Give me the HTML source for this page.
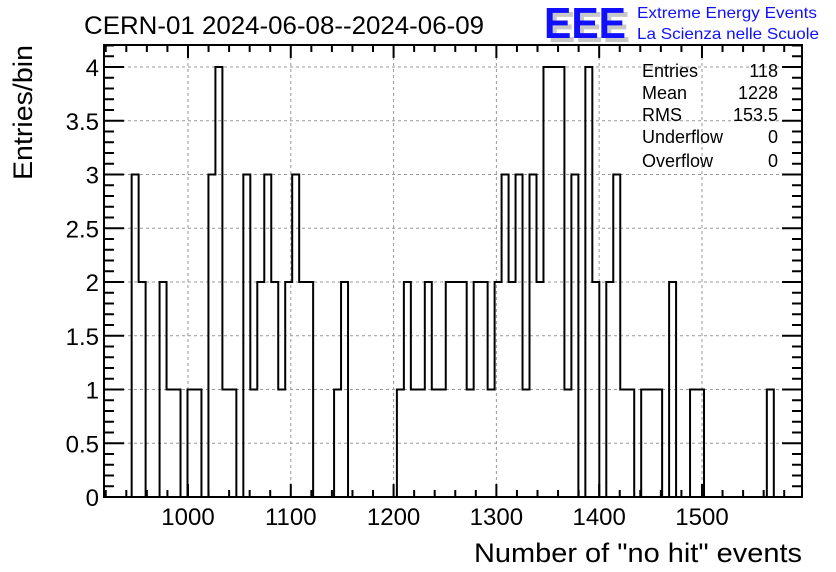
<!DOCTYPE html>
<html><head><meta charset="utf-8"><style>
body{margin:0;background:#fff;}
svg{display:block;font-family:"Liberation Sans",Arial,sans-serif;}
</style></head><body>
<svg id="chart" width="836" height="572" viewBox="0 0 836 572" xmlns="http://www.w3.org/2000/svg">
<rect x="0" y="0" width="836" height="572" fill="#fff"/>
<g id="grid"></g>
<g id="ticks"></g>
<path id="hist" fill="none" stroke="#000" stroke-width="2"/>
<rect x="104" y="45" width="698" height="452" fill="none" stroke="#000" stroke-width="2"/>
<g id="labels" font-size="24" fill="#000"></g>
<text x="84" y="34" font-size="25" textLength="400" lengthAdjust="spacingAndGlyphs">CERN-01 2024-06-08--2024-06-09</text>
<text x="802" y="562" font-size="27" text-anchor="end" textLength="328" lengthAdjust="spacingAndGlyphs">Number of "no hit" events</text>
<text transform="translate(32,180) rotate(-90)" font-size="27" textLength="135" lengthAdjust="spacingAndGlyphs">Entries/bin</text>
<g>
<text x="548" y="42" font-size="44" font-weight="bold" fill="#c8c8c8" textLength="82" lengthAdjust="spacingAndGlyphs">EEE</text>
<text x="544" y="38" font-size="44" font-weight="bold" fill="#1010ff" textLength="82" lengthAdjust="spacingAndGlyphs">EEE</text>
<text x="637" y="18" font-size="16" fill="#1010ff" textLength="180" lengthAdjust="spacingAndGlyphs">Extreme Energy Events</text>
<text x="637" y="39" font-size="16" fill="#1010ff" textLength="182" lengthAdjust="spacingAndGlyphs">La Scienza nelle Scuole</text>
</g>
<g font-size="18" fill="#000">
<text x="642" y="77">Entries</text><text x="778" y="77" text-anchor="end">118</text>
<text x="642" y="99">Mean</text><text x="778" y="99" text-anchor="end">1228</text>
<text x="642" y="121">RMS</text><text x="778" y="121" text-anchor="end">153.5</text>
<text x="642" y="143">Underflow</text><text x="778" y="143" text-anchor="end">0</text>
<text x="642" y="167">Overflow</text><text x="778" y="167" text-anchor="end">0</text>
</g>
</svg>
<script>
const binStart = 945.2;
const binWidth = 6.79;
const counts = [3,2,0,0,2,1,1,0,1,1,0,3,4,1,1,0,3,1,2,3,2,1,2,3,2,2,0,0,0,1,2,
0,0,0,0,0,0,0,
1,2,1,1,2,1,1,2,2,2,1,2,2,1,2,3,2,3,1,3,2,4,4,4,1,3,0,4,2,0,2,3,
1,1,0,1,1,1,0,2,0,0,1,1,0,0,0,0,0,0,0,0,0,1];
const xTicks = [1000,1100,1200,1300,1400,1500];
const yTicks = [0,0.5,1,1.5,2,2.5,3,3.5,4];
const yTickLabels = ["0","0.5","1","1.5","2","2.5","3","3.5","4"];
const xMin = 918.3, xMax = 1597.3, yMin = 0, yMax = 4.2;
const L=104,R=802,T=45,B=497;
const yPx4 = 67;
function sx(v){return L+(v-xMin)/(xMax-xMin)*(R-L);}
function sy(v){return B-(v-yMin)/(4-yMin)*(B-yPx4);}
const NS="http://www.w3.org/2000/svg";
function mk(tag,attrs,parent){const e=document.createElementNS(NS,tag);for(const k in attrs)e.setAttribute(k,attrs[k]);parent.appendChild(e);return e;}
const grid=document.getElementById('grid'),ticks=document.getElementById('ticks'),labels=document.getElementById('labels');
xTicks.forEach(t=>{
  const l=mk('line',{x1:sx(t),x2:sx(t),y1:T,y2:B,stroke:'#999','stroke-dasharray':'3,3','stroke-width':1},grid);
  
  
  const tx=mk('text',{x:sx(t),y:525,'text-anchor':'middle'},labels);
  
  
  tx.textContent=t;
});
yTicks.forEach((t,i)=>{
  if(t>0){const l=mk('line',{x1:L,x2:R,y1:sy(t),y2:sy(t),stroke:'#999','stroke-dasharray':'3,3','stroke-width':1},grid);
  
  }
  const tx=mk('text',{x:99,y:sy(t)+9,'text-anchor':'end'},labels);
  
  
  tx.textContent=yTickLabels[i];
});
let d='';
for(let v=920;v<=1597;v+=20){const x=sx(v);const big=v%100===0;const len=big?13:7;
  d+=`M${x},${B}v${-len}M${x},${T}v${len}`;}
for(let k=0;k<=42;k++){const v=k*0.1;const y=sy(v);if(y<T)continue;const big=k%5===0;const len=big?20:10;
  d+=`M${L},${y}h${len}M${R},${y}h${-len}`;}
mk('path',{d:d,stroke:'#000','stroke-width':2,fill:'none'},ticks);
let p=`M${sx(binStart)},${sy(0)}`;
counts.forEach((c,i)=>{const x0=sx(binStart+i*binWidth),x1=sx(binStart+(i+1)*binWidth);p+=`L${x0},${sy(c)}L${x1},${sy(c)}`;});
p+=`L${sx(binStart+counts.length*binWidth)},${sy(0)}`;
document.getElementById('hist').setAttribute('d',p);
</script>
</body></html>
